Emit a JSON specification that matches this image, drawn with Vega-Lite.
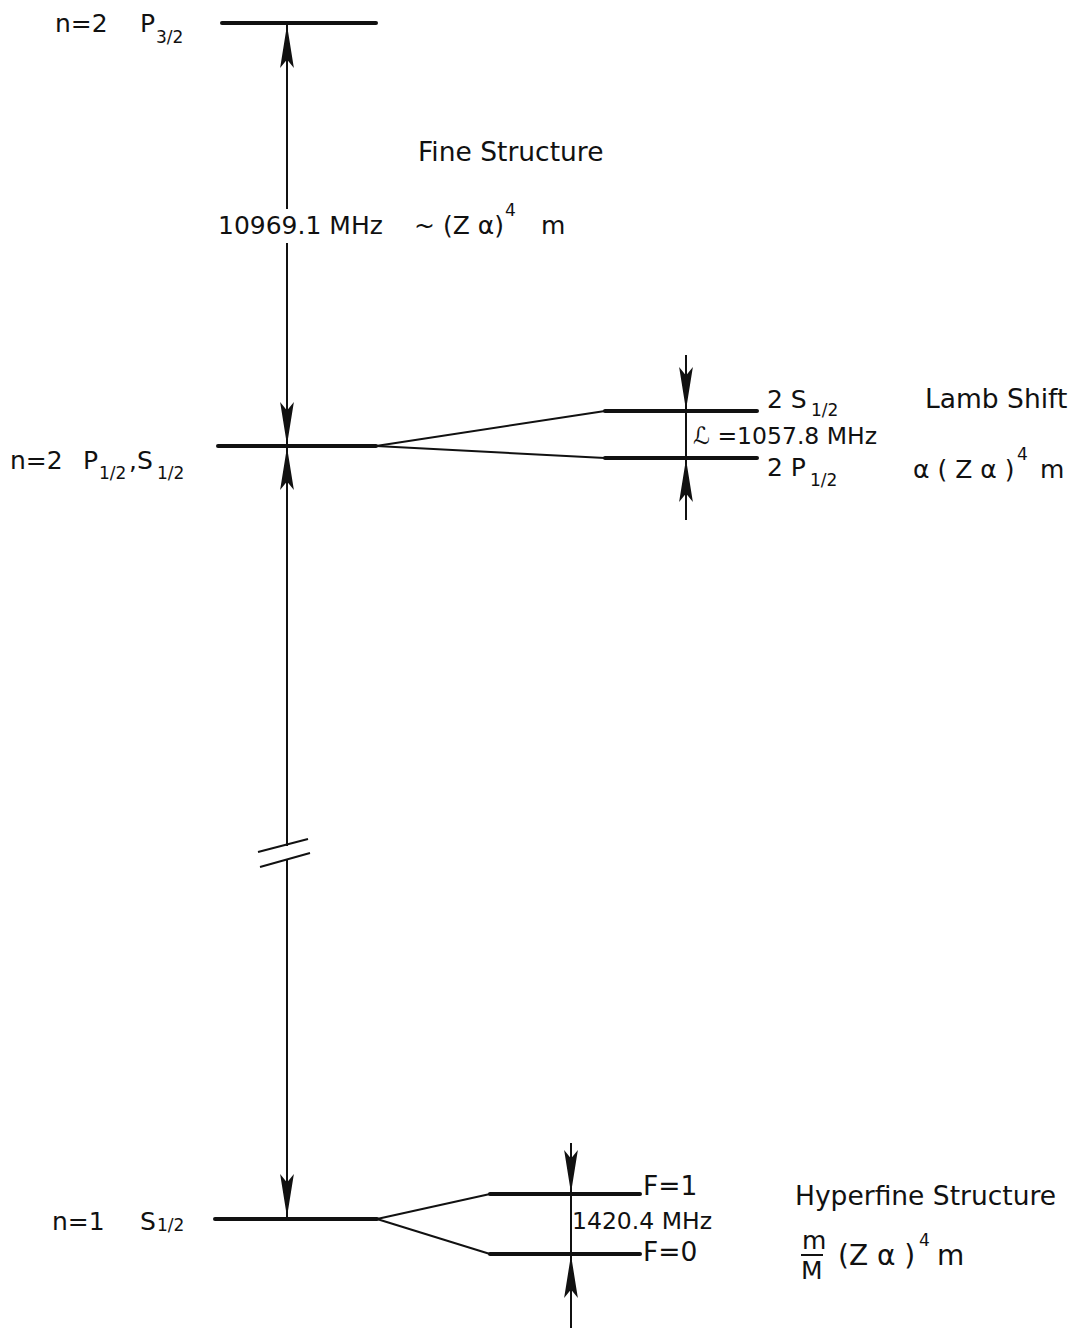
{
  "$schema": "https://vega.github.io/schema/vega-lite/v6.json",
  "width": 1080,
  "height": 1338,
  "padding": 0,
  "autosize": {"type": "none"},
  "background": "white",
  "config": {"view": {"stroke": null}},
  "datasets": {
    "segs": [
      {"x": 222, "y": 23, "x2": 376, "y2": 23, "kind": "level"},
      {"x": 218, "y": 446, "x2": 376, "y2": 446, "kind": "level"},
      {"x": 215, "y": 1219, "x2": 377, "y2": 1219, "kind": "level"},
      {"x": 605, "y": 411, "x2": 757, "y2": 411, "kind": "level"},
      {"x": 605, "y": 458, "x2": 757, "y2": 458, "kind": "level"},
      {"x": 490, "y": 1194, "x2": 640, "y2": 1194, "kind": "level"},
      {"x": 490, "y": 1254, "x2": 640, "y2": 1254, "kind": "level"},
      {"x": 287, "y": 23, "x2": 287, "y2": 209, "kind": "thin"},
      {"x": 287, "y": 243, "x2": 287, "y2": 846, "kind": "thin"},
      {"x": 287, "y": 860, "x2": 287, "y2": 1219, "kind": "thin"},
      {"x": 258, "y": 852, "x2": 308, "y2": 839, "kind": "thin"},
      {"x": 260, "y": 867, "x2": 310, "y2": 853, "kind": "thin"},
      {"x": 686, "y": 355, "x2": 686, "y2": 520, "kind": "thin"},
      {"x": 571, "y": 1143, "x2": 571, "y2": 1328, "kind": "thin"},
      {"x": 376, "y": 446, "x2": 605, "y2": 411, "kind": "thin"},
      {"x": 376, "y": 446, "x2": 605, "y2": 458, "kind": "thin"},
      {"x": 377, "y": 1219, "x2": 490, "y2": 1194, "kind": "thin"},
      {"x": 377, "y": 1219, "x2": 490, "y2": 1254, "kind": "thin"},
      {"x": 801, "y": 1255, "x2": 823, "y2": 1255, "kind": "thin"}
    ],
    "arrows": [
      {"x": 287, "y": 25, "dir": "up"},
      {"x": 287, "y": 445, "dir": "down"},
      {"x": 287, "y": 447, "dir": "up"},
      {"x": 287, "y": 1217, "dir": "down"},
      {"x": 686, "y": 410, "dir": "down"},
      {"x": 686, "y": 459, "dir": "up"},
      {"x": 571, "y": 1193, "dir": "down"},
      {"x": 571, "y": 1255, "dir": "up"}
    ],
    "labels": [
      {"x": 55, "y": 24, "t": "n=2", "role": "main"},
      {"x": 140, "y": 24, "t": "P", "role": "main"},
      {"x": 156, "y": 38, "t": "3/2", "role": "sub"},
      {"x": 418, "y": 153, "t": "Fine Structure", "role": "big"},
      {"x": 218, "y": 226, "t": "10969.1 MHz", "role": "main"},
      {"x": 414, "y": 226, "t": "~ (Z α)", "role": "main"},
      {"x": 505, "y": 211, "t": "4", "role": "sup"},
      {"x": 541, "y": 226, "t": "m", "role": "main"},
      {"x": 10, "y": 461, "t": "n=2", "role": "main"},
      {"x": 83, "y": 461, "t": "P", "role": "main"},
      {"x": 99, "y": 474, "t": "1/2", "role": "sub"},
      {"x": 129, "y": 461, "t": ",S", "role": "main"},
      {"x": 157, "y": 474, "t": "1/2", "role": "sub"},
      {"x": 767, "y": 400, "t": "2  S", "role": "main"},
      {"x": 811, "y": 411, "t": "1/2", "role": "sub"},
      {"x": 925, "y": 400, "t": "Lamb Shift", "role": "big"},
      {"x": 693, "y": 437, "t": "ℒ =1057.8 MHz", "role": "mid"},
      {"x": 767, "y": 468, "t": "2  P", "role": "main"},
      {"x": 810, "y": 481, "t": "1/2", "role": "sub"},
      {"x": 913, "y": 470, "t": "α ( Z α )", "role": "main"},
      {"x": 1017, "y": 455, "t": "4", "role": "sup"},
      {"x": 1040, "y": 470, "t": "m", "role": "main"},
      {"x": 52, "y": 1222, "t": "n=1", "role": "main"},
      {"x": 140, "y": 1222, "t": "S", "role": "main"},
      {"x": 157, "y": 1226, "t": "1/2", "role": "sub"},
      {"x": 643, "y": 1187, "t": "F=1", "role": "big"},
      {"x": 572, "y": 1222, "t": "1420.4 MHz", "role": "mid"},
      {"x": 643, "y": 1253, "t": "F=0", "role": "big"},
      {"x": 795, "y": 1197, "t": "Hyperfine Structure", "role": "big"},
      {"x": 802, "y": 1241, "t": "m", "role": "main"},
      {"x": 801, "y": 1271, "t": "M", "role": "main"},
      {"x": 838, "y": 1257, "t": "(Z α )", "role": "form"},
      {"x": 919, "y": 1241, "t": "4", "role": "sup"},
      {"x": 937, "y": 1257, "t": "m", "role": "form"}
    ]
  },
  "encoding": {
    "x": {"field": "x", "type": "quantitative", "scale": {"domain": [0, 1080], "nice": false, "zero": false}, "axis": null},
    "y": {"field": "y", "type": "quantitative", "scale": {"domain": [0, 1338], "nice": false, "zero": false, "reverse": true}, "axis": null}
  },
  "layer": [
    {
      "data": {"name": "segs"},
      "transform": [{"filter": "datum.kind === 'level'"}],
      "mark": {"type": "rule", "color": "#111", "strokeWidth": 4, "strokeCap": "round"},
      "encoding": {
        "x2": {"field": "x2"},
        "y2": {"field": "y2"}
      }
    },
    {
      "data": {"name": "segs"},
      "transform": [{"filter": "datum.kind === 'thin'"}],
      "mark": {"type": "rule", "color": "#111", "strokeWidth": 2},
      "encoding": {
        "x2": {"field": "x2"},
        "y2": {"field": "y2"}
      }
    },
    {
      "data": {"name": "arrows"},
      "mark": {"type": "point", "filled": true, "color": "#111", "opacity": 1, "size": 1849, "strokeWidth": 1},
      "encoding": {
        "shape": {
          "field": "dir", "type": "nominal",
          "scale": {"domain": ["up", "down"], "range": ["M0,0L0.32,2L0,1.6L-0.32,2Z", "M0,0L0.32,-2L0,-1.6L-0.32,-2Z"]},
          "legend": null
        }
      }
    },
    {
      "data": {"name": "labels"},
      "transform": [{"filter": "datum.role === 'main'"}],
      "mark": {"type": "text", "font": "DejaVu Sans", "fontSize": 25, "align": "left", "baseline": "middle", "color": "#111"},
      "encoding": {"text": {"field": "t"}}
    },
    {
      "data": {"name": "labels"},
      "transform": [{"filter": "datum.role === 'big'"}],
      "mark": {"type": "text", "font": "DejaVu Sans", "fontSize": 26.5, "align": "left", "baseline": "middle", "color": "#111"},
      "encoding": {"text": {"field": "t"}}
    },
    {
      "data": {"name": "labels"},
      "transform": [{"filter": "datum.role === 'form'"}],
      "mark": {"type": "text", "font": "DejaVu Sans", "fontSize": 28, "align": "left", "baseline": "middle", "color": "#111"},
      "encoding": {"text": {"field": "t"}}
    },
    {
      "data": {"name": "labels"},
      "transform": [{"filter": "datum.role === 'mid'"}],
      "mark": {"type": "text", "font": "DejaVu Sans", "fontSize": 23.5, "align": "left", "baseline": "middle", "color": "#111"},
      "encoding": {"text": {"field": "t"}}
    },
    {
      "data": {"name": "labels"},
      "transform": [{"filter": "datum.role === 'sub'"}],
      "mark": {"type": "text", "font": "DejaVu Sans", "fontSize": 17, "align": "left", "baseline": "middle", "color": "#111"},
      "encoding": {"text": {"field": "t"}}
    },
    {
      "data": {"name": "labels"},
      "transform": [{"filter": "datum.role === 'sup'"}],
      "mark": {"type": "text", "font": "DejaVu Sans", "fontSize": 17, "align": "left", "baseline": "middle", "color": "#111"},
      "encoding": {"text": {"field": "t"}}
    }
  ]
}
